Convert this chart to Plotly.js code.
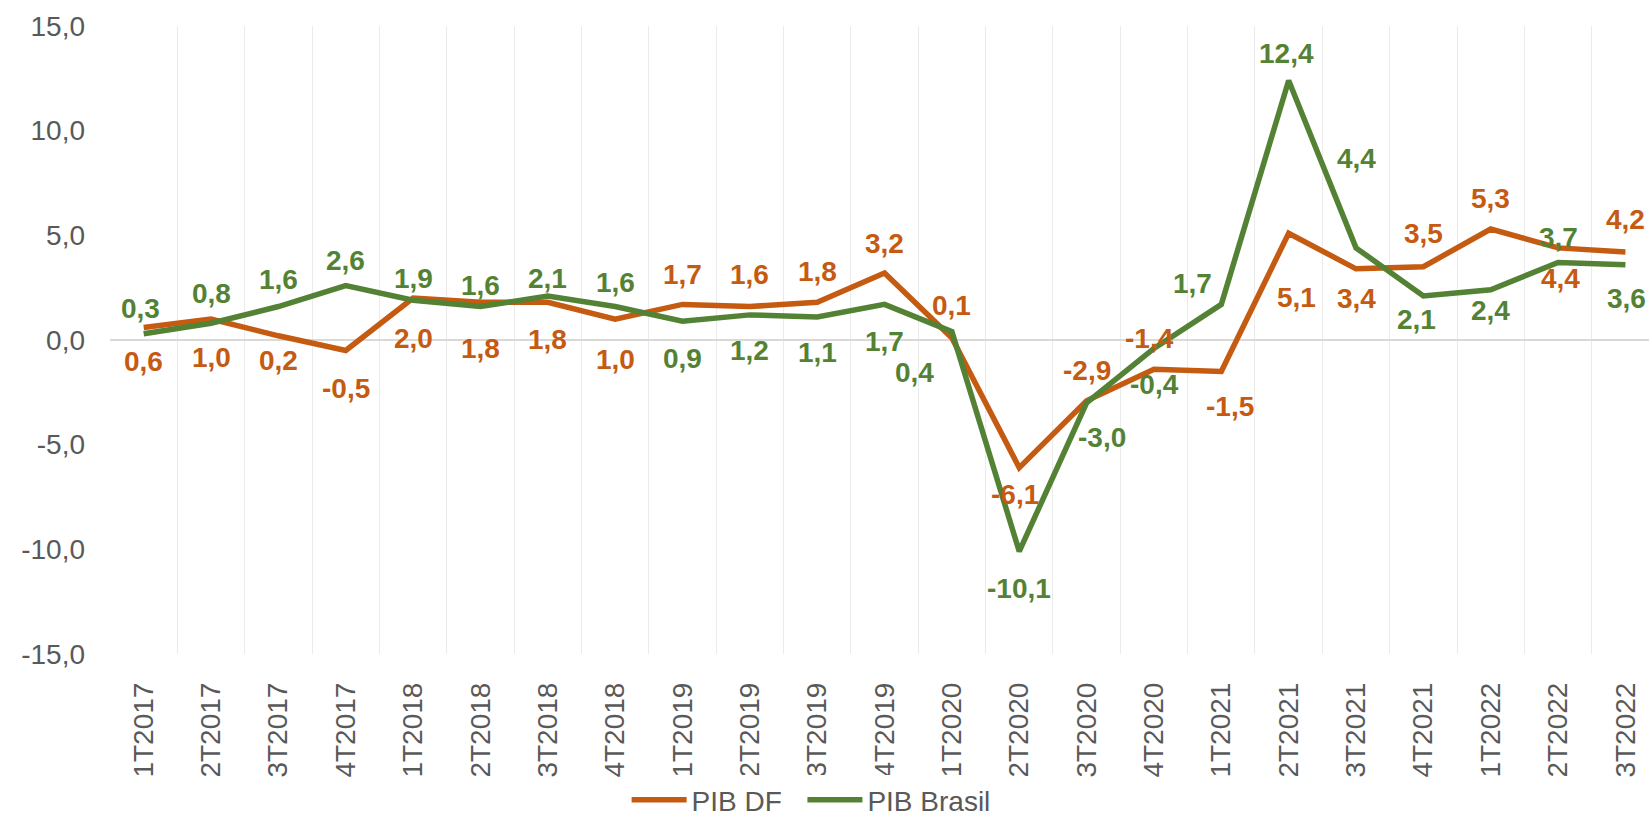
<!DOCTYPE html>
<html>
<head>
<meta charset="utf-8">
<script src="https://cdn.plot.ly/plotly-3.0.1.min.js"></script>
<style>
html,body{margin:0;padding:0;background:#fff;overflow:hidden;}
#chart{width:1649px;height:817px;}
</style>
</head>
<body>
<div id="chart"></div>
<script>
// ---- data ----
const categories = ["1T2017","2T2017","3T2017","4T2017","1T2018","2T2018","3T2018","4T2018",
  "1T2019","2T2019","3T2019","4T2019","1T2020","2T2020","3T2020","4T2020",
  "1T2021","2T2021","3T2021","4T2021","1T2022","2T2022","3T2022"];
const pibDF = [0.6,1.0,0.2,-0.5,2.0,1.8,1.8,1.0,1.7,1.6,1.8,3.2,0.1,-6.1,-2.9,-1.4,-1.5,5.1,3.4,3.5,5.3,4.4,4.2];
const pibBrasil = [0.3,0.8,1.6,2.6,1.9,1.6,2.1,1.6,0.9,1.2,1.1,1.7,0.4,-10.1,-3.0,-0.4,1.7,12.4,4.4,2.1,2.4,3.7,3.6];
const yTicks = [-15,-10,-5,0,5,10,15];
const seriesNames = ["PIB DF","PIB Brasil"];

// ---- label placement (style only: pixel offsets, + = down) ----
const dfLabelDy = [34,38,25,38,40,46,37,40,-30,-32,-31,-30,-32,27,-30,-31,35,64,30,-33,-31,31,-33];
const dfLabelDx = [0,0,0,0,0,0,0,0,0,0,0,0,0,-4,0,-4,9,8,0,0,0,2,0];
const brLabelDy = [-25,-30,-27,-25,-22,-21,-18,-24,37,36,36,37,41,37,35,36,-21,-27,-89,23,21,-25,34];
const brLabelDx = [-3,0,0,0,0,0,0,0,0,0,0,0,-37,0,15,1,-29,-2,0,-7,0,0,1];

const orange = "#C55A11";
const green = "#548235";
const grey = "#595959";
const FONT = "Liberation Sans, Arial, sans-serif";
const fmt = v => v.toFixed(1).replace(".", ",");

const traces = [
  {x: categories, y: pibDF, name: seriesNames[0] + "\u00a0\u00a0", type: "scatter", mode: "lines",
   line: {color: orange, width: 5.5}, hoverinfo: "skip"},
  {x: categories, y: pibBrasil, name: seriesNames[1], type: "scatter", mode: "lines",
   line: {color: green, width: 5.5}, hoverinfo: "skip"}
];

const annotations = [];
function addLabels(vals, dx, dy, color) {
  vals.forEach((v, i) => {
    annotations.push({
      x: categories[i], y: v, xref: "x", yref: "y", text: "<b>" + fmt(v) + "</b>", showarrow: false,
      xanchor: "center", yanchor: "middle", xshift: dx[i], yshift: -dy[i],
      font: {family: FONT, size: 28, color: color}
    });
  });
}
addLabels(pibDF, dfLabelDx, dfLabelDy, orange);
addLabels(pibBrasil, brLabelDx, brLabelDy, green);

const layout = {
  width: 1649, height: 817,
  margin: {l: 110, r: 0, t: 26, b: 163, pad: 0, autoexpand: false},
  paper_bgcolor: "#ffffff", plot_bgcolor: "#ffffff",
  font: {family: FONT, color: grey},
  showlegend: true,
  legend: {orientation: "h", xref: "container", yref: "container",
    x: 0.380, xanchor: "left", y: 0.0208, yanchor: "middle",
    font: {size: 28, color: grey}, itemwidth: 55,
    traceorder: "normal"},
  xaxis: {type: "category", range: [-0.5, 22.35], tickangle: -90,
    tickson: "boundaries", showgrid: true, gridcolor: "#ebebeb", gridwidth: 1,
    ticks: "", showline: false, zeroline: false, automargin: false,
    tickfont: {size: 28, color: grey}, ticklabelstandoff: 22, fixedrange: true},
  yaxis: {range: [-15, 15], tickvals: yTicks, ticktext: yTicks.map(fmt),
    showgrid: false, zeroline: true, zerolinecolor: "#d9d9d9", zerolinewidth: 2,
    ticks: "", showline: false, tickfont: {size: 28, color: grey}, automargin: false,
    ticklabelstandoff: 24, fixedrange: true},
  annotations: annotations
};

Plotly.newPlot("chart", traces, layout, {displayModeBar: false, staticPlot: true});
</script>
</body>
</html>
